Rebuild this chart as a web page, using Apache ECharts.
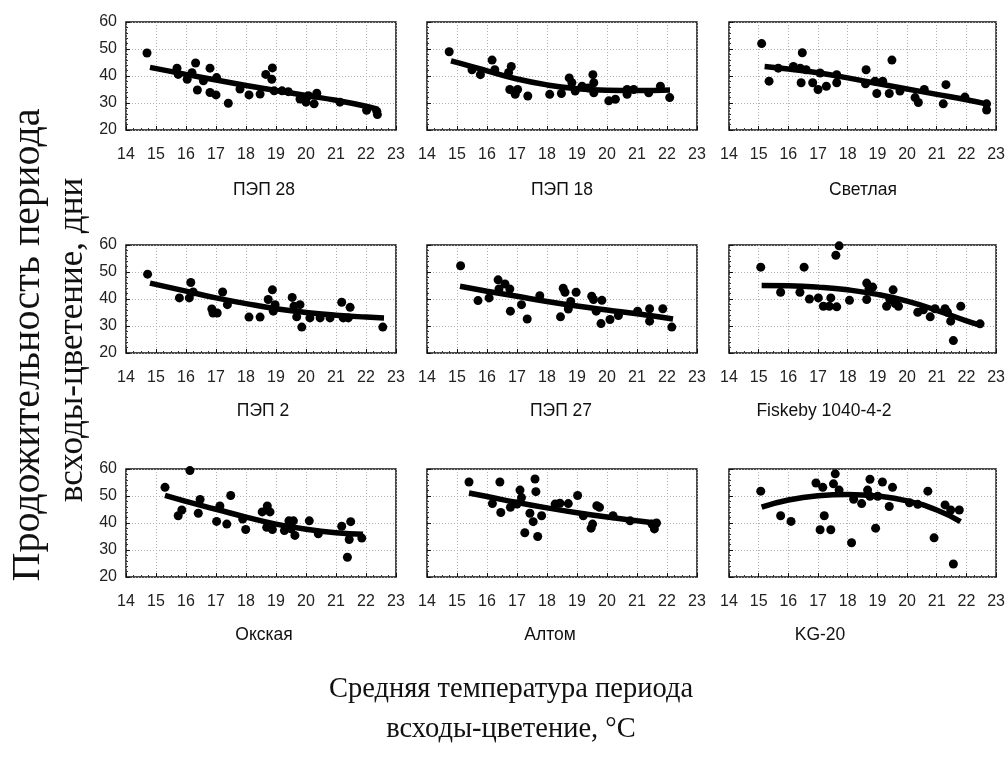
<!DOCTYPE html>
<html><head><meta charset="utf-8">
<script src="https://cdn.jsdelivr.net/npm/echarts@6/dist/echarts.min.js"></script>
<style>html,body{margin:0;padding:0;background:#fff}#c{width:1008px;height:758px}</style>
</head><body><div id="c"></div>
<script>
// ---- data ----
const panelTitles = ['ПЭП 28','ПЭП 18','Светлая','ПЭП 2','ПЭП 27','Fiskeby 1040-4-2','Окская','Алтом','KG-20'];
const xTicks = [14,15,16,17,18,19,20,21,22,23];
const yTicks = [20,30,40,50,60];
const yTitleLines = ['Продожительность периода','всходы-цветение, дни'];
const xTitleLines = ['Средняя температура периода','всходы-цветение, °С'];

const pep28T = [14.7,15.7,15.74,16.04,16.2,16.32,16.38,16.58,16.8,16.8,17.0,17.02,17.41,17.8,18.1,18.47,18.66,18.86,18.88,18.94,19.2,19.41,19.8,20.0,20.08,20.27,20.36,21.13,22.02,22.36,22.38];
const pep28D = [48.5,42.9,40.6,38.8,41.2,44.8,34.8,38.2,42.9,33.9,33.0,39.4,29.9,35.2,33.0,33.3,40.6,38.8,43.0,34.5,34.5,34.2,31.5,30.3,32.7,29.7,33.6,30.3,27.3,26.9,25.7];
const pep28FitT = [14.8,16,17,18,19,20,21,22,22.4];
const pep28FitD = [43.2,40.6,38.5,36.5,34.6,32.8,31.0,28.8,27.6];

const pep18T = [14.74,15.5,15.78,16.17,16.26,16.72,16.76,16.81,16.94,17.02,17.36,18.09,18.48,18.74,18.83,18.94,19.17,19.37,19.53,19.56,19.56,20.06,20.28,20.67,20.67,20.89,21.39,21.78,22.09];
const pep18D = [49.0,42.3,40.5,45.9,42.3,41.3,35.0,43.5,33.2,35.0,32.6,33.2,33.5,39.3,37.5,34.4,36.2,35.6,40.5,37.5,33.8,30.8,31.4,33.2,35.0,35.0,33.8,36.2,32.0];
const pep18FitT = [14.8,15.5,16,17,18,19,20,21,22.1];
const pep18FitD = [45.6,43.5,41.9,38.9,36.7,35.3,34.7,34.6,34.8];

const svetT = [15.1,15.35,15.66,16.17,16.4,16.43,16.47,16.6,16.82,17.0,17.07,17.28,17.63,17.63,18.6,18.62,18.92,18.98,19.18,19.4,19.49,19.76,20.27,20.38,20.58,21.22,21.31,21.95,22.68,22.68];
const svetD = [52.0,38.1,42.9,43.5,42.9,37.5,48.6,42.3,37.5,35.0,41.1,36.2,40.5,37.5,37.1,42.3,38.1,33.5,38.1,33.5,45.9,34.4,32.0,30.2,35.0,29.7,36.8,32.2,29.7,27.4];
const svetFitT = [15.2,16,17,18,19,20,21,22,22.7];
const svetFitD = [43.5,42.6,41.2,39.3,37.2,35.2,33.2,31.2,29.6];

const pep2T = [14.72,15.78,16.11,16.16,16.24,16.86,16.9,17.04,17.22,17.38,18.1,18.47,18.74,18.88,18.91,18.97,19.54,19.6,19.69,19.8,19.86,20.13,20.47,20.8,21.19,21.24,21.41,21.47,22.56];
const pep2D = [49.2,40.4,40.4,46.1,42.6,36.3,34.8,34.8,42.6,37.9,33.3,33.3,39.8,43.4,35.5,37.9,40.6,37.3,33.4,37.9,29.6,33.0,33.0,33.0,38.8,33.0,33.0,36.9,29.6];
const pep2FitT = [14.8,16,17,18,19,20,21,22,22.6];
const pep2FitD = [45.9,42.9,40.4,38.3,36.4,35.0,34.0,33.3,33.0];

const pep27T = [15.12,15.7,16.07,16.37,16.4,16.6,16.76,16.78,17.15,17.34,17.76,18.45,18.54,18.6,18.71,18.79,18.97,19.49,19.55,19.64,19.8,19.83,20.1,20.38,21.02,21.42,21.42,21.86,22.16];
const pep27D = [52.3,39.4,40.4,47.1,43.7,45.6,43.7,35.5,37.9,32.6,41.2,33.4,44.0,42.5,36.3,39.1,42.5,41.0,39.8,35.5,30.9,39.5,32.4,33.9,35.5,36.4,31.8,36.4,29.6];
const pep27FitT = [15.1,16,17,18,19,20,21,22.2];
const pep27FitD = [44.7,42.9,41.0,39.1,37.4,35.9,34.5,32.6];

const fiskT = [15.07,15.74,16.39,16.53,16.71,17.01,17.18,17.38,17.43,17.6,17.63,17.71,18.06,18.64,18.64,18.72,18.84,19.31,19.42,19.53,19.6,19.71,20.36,20.55,20.78,20.94,21.28,21.36,21.47,21.56,21.81,22.46];
const fiskD = [51.8,42.5,42.5,51.8,40.0,40.4,37.3,37.3,40.4,56.2,37.1,59.7,39.5,45.9,39.8,44.0,44.4,37.3,39.8,43.4,38.3,37.3,35.1,36.0,33.4,36.4,36.4,35.1,31.8,24.6,37.3,30.8];
const fiskFitT = [15.1,16,17,18,19,20,21,22,22.5];
const fiskFitD = [45.0,44.9,44.4,43.4,41.7,39.2,35.8,31.9,30.2];

const okskT = [15.3,15.74,15.86,16.13,16.41,16.47,17.02,17.13,17.36,17.49,17.89,17.99,18.54,18.69,18.71,18.8,18.88,19.28,19.43,19.5,19.58,19.63,20.11,20.41,21.19,21.38,21.44,21.49,21.86];
const okskD = [53.2,42.7,44.8,59.4,43.6,48.7,40.6,46.3,39.6,50.2,41.5,37.6,44.1,38.4,46.3,44.1,37.6,37.2,40.8,37.8,40.8,35.4,40.8,36.0,38.8,27.3,33.9,40.5,34.4];
const okskFitT = [15.3,16,17,18,19,20,21,21.9];
const okskFitD = [50.2,48.0,45.1,42.2,39.6,37.7,36.4,35.8];

const altT = [15.4,16.18,16.43,16.46,16.78,17.0,17.1,17.15,17.26,17.43,17.54,17.6,17.63,17.69,17.82,18.27,18.43,18.71,19.02,19.21,19.47,19.52,19.66,19.75,20.2,20.77,21.5,21.58,21.65];
const altD = [55.2,47.2,55.2,43.9,45.8,47.0,52.2,49.4,36.4,43.6,40.5,56.3,51.6,35.0,42.7,47.0,47.3,47.2,50.2,42.7,38.1,39.6,46.4,45.8,42.7,40.8,39.6,37.8,40.0];
const altFitT = [15.4,16,17,18,19,20,21,21.6];
const altFitD = [51.1,49.8,47.6,45.6,43.8,42.2,40.8,40.0];

const kgT = [15.07,15.74,16.09,16.93,17.07,17.16,17.21,17.43,17.52,17.58,17.71,18.13,18.2,18.47,18.67,18.75,18.75,18.94,19.01,19.17,19.4,19.51,20.08,20.36,20.7,20.91,21.28,21.47,21.56,21.76];
const kgD = [51.8,42.7,40.6,54.8,37.5,53.2,42.7,37.5,54.5,58.2,52.2,32.7,48.8,47.2,52.2,56.2,49.9,38.1,49.9,55.2,46.1,53.2,47.5,46.9,51.8,34.5,46.7,44.8,24.8,44.8];
const kgFitT = [15.1,16,17,18,19,20,21,21.8];
const kgFitD = [45.9,48.5,50.1,50.6,50.0,48.2,44.8,40.5];

const panels = [
  [pep28T,pep28D,pep28FitT,pep28FitD],[pep18T,pep18D,pep18FitT,pep18FitD],[svetT,svetD,svetFitT,svetFitD],
  [pep2T,pep2D,pep2FitT,pep2FitD],[pep27T,pep27D,pep27FitT,pep27FitD],[fiskT,fiskD,fiskFitT,fiskFitD],
  [okskT,okskD,okskFitT,okskFitD],[altT,altD,altFitT,altFitD],[kgT,kgD,kgFitT,kgFitD]
];

// ---- layout ----
const colLeft = [126, 427, 729];
const rowTop = [22, 245, 469];
const plotW = 270, plotH = 108;
const titleX = [[259,557,858],[258,556,819],[259,545,815]];
const titleY = [185, 406, 630];

const zip = (a,b) => a.map((v,i)=>[v,b[i]]);
const grids=[], xAxes=[], yAxes=[], series=[], titles=[];
panels.forEach((p, i) => {
  const r = Math.floor(i/3), c = i%3;
  grids.push({left: colLeft[c], top: rowTop[r], width: plotW, height: plotH, show: true,
    borderColor: '#111', borderWidth: 1.5, backgroundColor: '#fff'});
  xAxes.push({type:'value', gridIndex:i, min:xTicks[0], max:xTicks[xTicks.length-1], interval:1,
    axisLine:{show:false}, axisTick:{show:true, inside:true, length:4, lineStyle:{color:'#111'}},
    minorTick:{show:true, splitNumber:4, length:2, lineStyle:{color:'#333'}},
    splitLine:{show:true, lineStyle:{color:'#b0b0b0', type:[1,2], width:1}},
    axisLabel:{color:'#222', fontSize:16, fontFamily:'Liberation Sans, Arial', margin:17}});
  yAxes.push({type:'value', gridIndex:i, min:yTicks[0], max:yTicks[yTicks.length-1], interval:10,
    axisLine:{show:false}, axisTick:{show:true, inside:true, length:4, lineStyle:{color:'#111'}},
    minorTick:{show:true, splitNumber:5, length:2, lineStyle:{color:'#333'}},
    splitLine:{show:true, lineStyle:{color:'#b0b0b0', type:[1,2], width:1}},
    axisLabel:{show: c===0, color:'#222', fontSize:16, fontFamily:'Liberation Sans, Arial', margin:9}});
  series.push({type:'scatter', xAxisIndex:i, yAxisIndex:i, data: zip(p[0],p[1]), symbolSize:9,
    itemStyle:{color:'#000', opacity:1}, z:3, clip:false});
  series.push({type:'line', xAxisIndex:i, yAxisIndex:i, data: zip(p[2],p[3]), smooth:true, symbol:'none',
    lineStyle:{color:'#000', width:5.5}, z:4});
  titles.push({text: panelTitles[i], left: titleX[r][c], top: titleY[r], textAlign:'center', textVerticalAlign:'middle',
    textStyle:{fontSize:17.5, fontWeight:'normal', color:'#111', fontFamily:'Liberation Sans, Arial'}});
});

xTitleLines.forEach((t,k)=>titles.push({text:t, left:506, top:[685,725][k], textAlign:'center', textVerticalAlign:'middle',
  textStyle:{fontSize:28.5, fontWeight:'normal', color:'#111', fontFamily:'Liberation Serif, Times New Roman, serif'}}));

const chart = echarts.init(document.getElementById('c'), null, {renderer:'canvas'});
chart.setOption({
  animation:false,
  backgroundColor:'#fff',
  title: titles,
  grid: grids, xAxis: xAxes, yAxis: yAxes, series: series,
  graphic: yTitleLines.map((t,k)=>({type:'text', x:[28,73][k], y:[345,340][k], rotation:Math.PI/2,
    style:{text:t, fill:'#111', font:[40,35][k]+'px "Liberation Serif", "Times New Roman", serif', align:'center', verticalAlign:'middle'}}))
});
</script></body></html>
